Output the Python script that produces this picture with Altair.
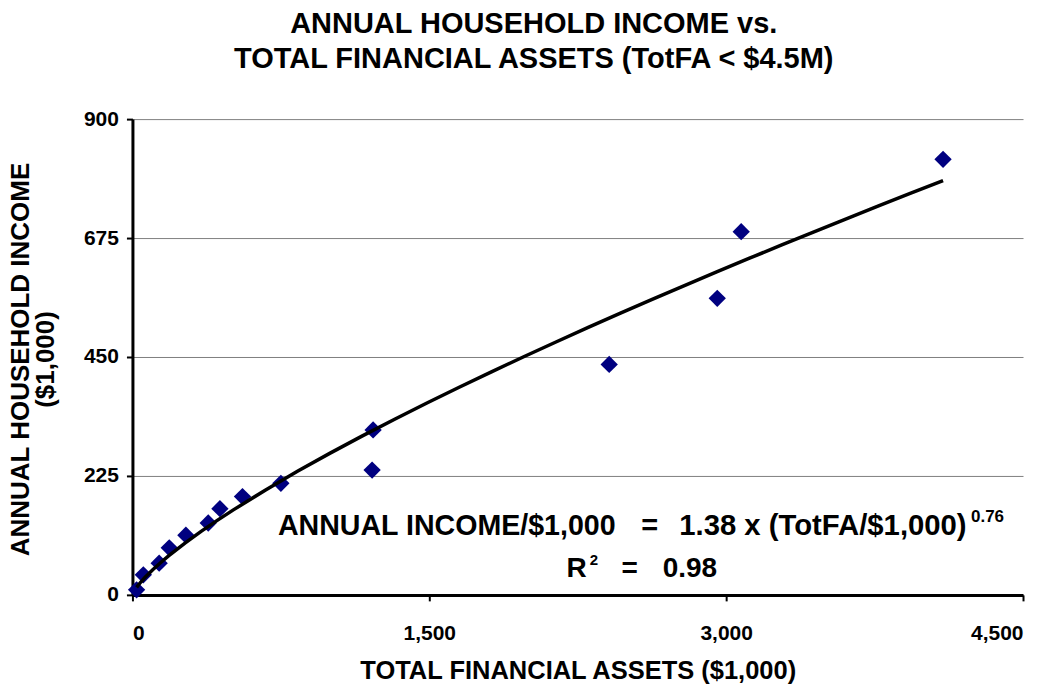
import altair as alt
import pandas as pd

# ---- data ----
assets = [21, 55, 135, 186, 270, 383, 442, 556, 750, 1216, 1211, 2409, 2955, 3076, 4096]
income = [9.5, 38, 60, 89, 113, 136, 163, 186, 211, 312, 236, 436, 561, 687, 824]

title_lines = ["ANNUAL HOUSEHOLD INCOME vs.", "TOTAL FINANCIAL ASSETS (TotFA < $4.5M)"]
x_title = "TOTAL FINANCIAL ASSETS ($1,000)"
y_title = ["ANNUAL HOUSEHOLD INCOME", "($1,000)"]
x_ticks = [0, 1500, 3000, 4500]
y_ticks = [0, 225, 450, 675, 900]

ann_text = ["ANNUAL INCOME/$1,000", "=", "1.38 x (TotFA/$1,000)", "0.76", "R", "2", "=", "0.98"]
ann_x = [735, 2614, 4215, 4237, 2193, 2311, 2513, 2679]
ann_y = [113.4, 113.4, 113.4, 138.6, 34, 56.7, 34, 34]
ann_align = ["left", "center", "right", "left", "left", "left", "center", "left"]
ann_size = [28.6, 29, 29.3, 17, 28, 15, 28, 28]

FONT = "Liberation Sans, Arial, sans-serif"

df = pd.DataFrame({"assets": assets, "income": income})
ann = pd.DataFrame({"assets": ann_x, "income": ann_y, "label": ann_text,
                    "align": ann_align, "fs": ann_size})


def xenc():
    return alt.X("assets:Q",
                 scale=alt.Scale(domain=[0, 4500], nice=False, zero=True),
                 axis=alt.Axis(values=x_ticks, format=",.0f", title=x_title, grid=False,
                               titleY=84, titleBaseline="alphabetic", labelPadding=22,
                               titleFontSize=25.5))


def yenc():
    return alt.Y("income:Q",
                 scale=alt.Scale(domain=[0, 900], nice=False),
                 axis=alt.Axis(values=y_ticks, format=".0f", title=y_title, grid=True,
                               titleX=-112, titleY=240, titleAngle=-90, titleAlign="center",
                               titleBaseline="middle", titleLineHeight=25, labelPadding=8,
                               titleFontSize=26))


points = alt.Chart(df).mark_point(shape="diamond", filled=True, size=300,
                                  color="#000080", opacity=1).encode(x=xenc(), y=yenc())

trend = alt.Chart(df).transform_regression(
    on="assets", regression="income", method="pow"
).mark_line(color="black", strokeWidth=3.5).encode(x=xenc(), y=yenc())

layers = [points, trend]
for al in ["left", "center", "right"]:
    layers.append(
        alt.Chart(ann[ann["align"] == al]).mark_text(
            align=al, baseline="alphabetic", font=FONT, fontWeight="bold", color="black"
        ).encode(x=xenc(), y=yenc(), text="label:N",
                 size=alt.Size("fs:Q", scale=None, legend=None))
    )

chart = alt.layer(*layers).properties(
    width=891, height=476,
    padding={"left": 124.5, "top": 111, "right": 27, "bottom": 90},
    autosize=alt.AutoSizeParams(type="none"),
    background="white",
    title=alt.TitleParams(text=title_lines, fontSize=29, font=FONT, fontWeight="bold",
                          color="black", anchor="middle", frame="group", offset=11,
                          baseline="alphabetic", lineHeight=35, dx=-44),
).configure_view(stroke=None).configure_axis(
    domainColor="black", domainWidth=3, tickColor="black", tickWidth=2, tickSize=6,
    labelFont=FONT, labelFontSize=21, labelFontWeight="bold", labelColor="black",
    titleFont=FONT, titleFontSize=25, titleFontWeight="bold", titleColor="black",
    gridColor="#808080", gridWidth=1,
)

chart.save("out.html", embed_options={"renderer": "svg", "actions": False})
